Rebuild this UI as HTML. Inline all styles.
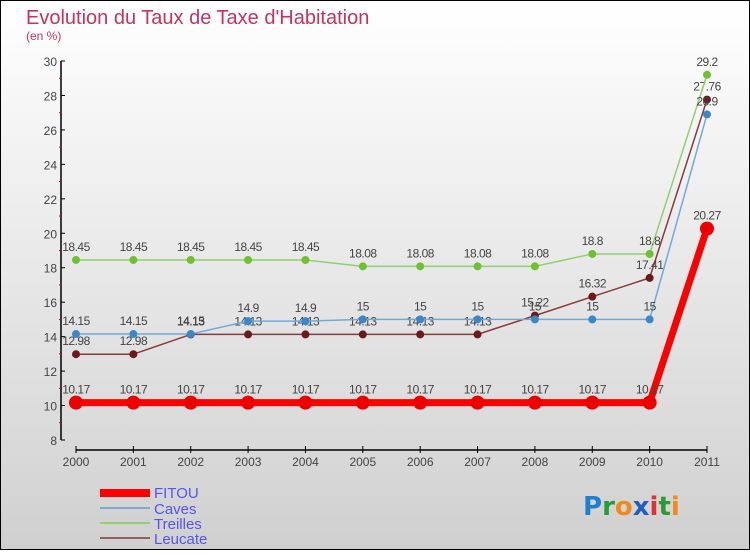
<!DOCTYPE html>
<html><head><meta charset="utf-8"><style>
html,body{margin:0;padding:0;}
body{width:750px;height:550px;overflow:hidden;font-family:"Liberation Sans",sans-serif;}
</style></head><body>
<svg id="chart" width="750" height="550" xmlns="http://www.w3.org/2000/svg">
<defs><linearGradient id="bg" x1="0" y1="0" x2="0" y2="1"><stop offset="0" stop-color="#ffffff"/><stop offset="1" stop-color="#d0d0d0"/></linearGradient></defs>
<rect x="0.5" y="0.5" width="749" height="549" fill="url(#bg)" stroke="#000" stroke-width="1"/>
<text x="26" y="24" font-size="20" fill="#c8325f">Evolution du Taux de Taxe d'Habitation</text>
<text x="26" y="40" font-size="12" fill="#c8325f">(en %)</text>
<g id="axes"></g>
<g id="series"></g>
<g id="legend">
<rect x="100" y="489" width="50" height="8" fill="#ff0000"/>
<text x="154" y="498" font-size="15" fill="#5555ee">FITOU</text>
<line x1="100" y1="508" x2="150" y2="508" stroke="#80aace" stroke-width="2"/>
<text x="154" y="514" font-size="15" fill="#5555ee">Caves</text>
<line x1="100" y1="523" x2="150" y2="523" stroke="#90d070" stroke-width="2"/>
<text x="154" y="529" font-size="15" fill="#5555ee">Treilles</text>
<line x1="100" y1="538" x2="150" y2="538" stroke="#906060" stroke-width="2"/>
<text x="154" y="544" font-size="15" fill="#5555ee">Leucate</text>
</g>
<text x="583" y="515" font-size="26" font-weight="bold" font-family="DejaVu Sans, sans-serif"><tspan fill="#1e7fd0">P</tspan><tspan fill="#2a9a3a">r</tspan><tspan fill="#f08a1e">o</tspan><tspan fill="#1e60c0">x</tspan><tspan fill="#e03030">i</tspan><tspan fill="#2a9a3a">t</tspan><tspan fill="#f08a1e">i</tspan></text>
</svg>
<script>
const years = ["2000","2001","2002","2003","2004","2005","2006","2007","2008","2009","2010","2011"];
const yTicks = [8,10,12,14,16,18,20,22,24,26,28,30];
const fitou = [10.17,10.17,10.17,10.17,10.17,10.17,10.17,10.17,10.17,10.17,10.17,20.27];
const caves = [14.15,14.15,14.15,14.9,14.9,15,15,15,15,15,15,26.9];
const treilles = [18.45,18.45,18.45,18.45,18.45,18.08,18.08,18.08,18.08,18.8,18.8,29.2];
const leucate = [12.98,12.98,14.13,14.13,14.13,14.13,14.13,14.13,15.22,16.32,17.41,27.76];

const NS="http://www.w3.org/2000/svg";
const x0=76, xStep=(707-76)/11, yMin=8, yMax=30, yTop=61, yBot=440;
const X=i=>x0+i*xStep;
const Y=v=>yBot-(v-yMin)/(yMax-yMin)*(yBot-yTop);
function mk(tag,attrs,parent){const e=document.createElementNS(NS,tag);for(const k in attrs)e.setAttribute(k,attrs[k]);parent.appendChild(e);return e;}
const axes=document.getElementById('axes');
const yAxis=mk('line',{x1:61,y1:yTop,x2:61,y2:yBot,stroke:'#000','stroke-width':1.5},axes);


yTicks.forEach(t=>{
  const tk=mk('line',{x1:61,y1:Y(t),x2:65,y2:Y(t),stroke:'#000'},axes);
  
  
  const lb=mk('text',{x:57,y:Y(t)+5,'font-size':12,fill:'#444','text-anchor':'end'},axes);
  lb.textContent=t;
  
  
  if(t<yMax){const m=mk('line',{x1:59,y1:Y(t+1),x2:61,y2:Y(t+1),stroke:'#e00000'},axes);
  
  }
});
const xAxis=mk('line',{x1:X(0),y1:450,x2:X(11),y2:450,stroke:'#000','stroke-width':1.5},axes);


years.forEach((yr,i)=>{
  const tk=mk('line',{x1:X(i),y1:446,x2:X(i),y2:453,stroke:'#000'},axes);
  
  
  const lb=mk('text',{x:X(i),y:466,'font-size':12,fill:'#444','text-anchor':'middle'},axes);
  lb.textContent=yr;
  
  
});
const seriesG=document.getElementById('series');
function draw(name,vals,color,dot,w,r){
  const g=mk('g',{},seriesG);
  
  
  const pl=mk('polyline',{points:vals.map((v,i)=>X(i)+','+Y(v)).join(' '),fill:'none',stroke:color,'stroke-width':w,'stroke-linejoin':'round'},g);
  
  
  vals.forEach((v,i)=>{
    const c=mk('circle',{cx:X(i),cy:Y(v),r:r,fill:dot},g);
    
    
    const t=mk('text',{x:X(i),y:Y(v)-9,'font-size':12,fill:'#444','text-anchor':'middle','letter-spacing':'-0.5'},g);
    t.textContent=String(v);
    
    
  });
}
draw('leucate',leucate,'#8a3a3a','#6a1a1a',1.5,4);
draw('treilles',treilles,'#90d070','#70c030',1.5,4);
draw('caves',caves,'#70aada','#3a88c8',1.5,4);
draw('fitou',fitou,'#ff0000','#ee0000',7,7);
</script>
</body></html>
